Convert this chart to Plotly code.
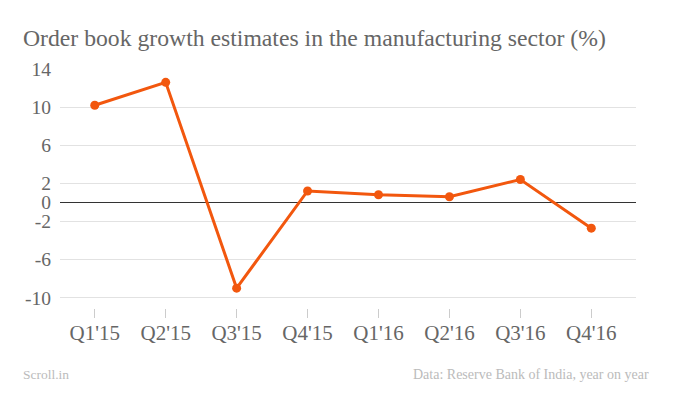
import plotly.graph_objects as go

quarters = ["Q1'15", "Q2'15", "Q3'15", "Q4'15", "Q1'16", "Q2'16", "Q3'16", "Q4'16"]
growth = [10.2, 12.6, -9.0, 1.2, 0.8, 0.6, 2.4, -2.7]
y_ticks = [14, 10, 6, 2, 0, -2, -6, -10]

title_text = "Order book growth estimates in the manufacturing sector (%)"
credit_text = "Scroll.in"
source_text = "Data: Reserve Bank of India, year on year"

FONT = "Liberation Serif"
W, H = 681, 394
L, R, T, B = 60, 45, 69, 86
PW, PH = W - L - R, H - T - B

def px(x):
    return (x - L) / PW

def py(y):
    return (H - B - y) / PH

fig = go.Figure()
fig.add_trace(go.Scatter(
    x=quarters, y=growth, mode="lines+markers",
    line=dict(color="#F2570E", width=3),
    marker=dict(color="#F2570E", size=9),
    hoverinfo="x+y", showlegend=False,
))

fig.update_layout(
    width=W, height=H,
    margin=dict(l=L, r=R, t=T, b=B),
    paper_bgcolor="white", plot_bgcolor="white",
    font=dict(family=FONT, color="#666666"),
    xaxis=dict(
        type="category", range=[-0.49, 7.63],
        showgrid=False, showline=False, zeroline=False,
        ticks="outside", ticklen=9, tickcolor="#cccccc", tickwidth=1,
        ticklabelstandoff=-3,
        tickfont=dict(size=21, color="#666666", family=FONT),
    ),
    yaxis=dict(
        range=[-11.08, 14.0],
        tickvals=y_ticks, ticktext=[str(v) for v in y_ticks],
        showgrid=True, gridcolor="#e2e2e2", gridwidth=1,
        zeroline=True, zerolinecolor="#333333", zerolinewidth=1,
        showline=False, ticks="",
        ticklabelstandoff=8,
        tickfont=dict(size=19.5, color="#666666", family=FONT),
    ),
    annotations=[
        dict(text=title_text, xref="paper", yref="paper",
             x=px(21), y=py(38), xanchor="left", yanchor="middle",
             showarrow=False, font=dict(size=23.7, color="#666666", family=FONT)),
        dict(text=credit_text, xref="paper", yref="paper",
             x=px(21), y=py(374), xanchor="left", yanchor="middle",
             showarrow=False, font=dict(size=13.5, color="#bbbbbb", family=FONT)),
        dict(text=source_text, xref="paper", yref="paper",
             x=px(651), y=py(374), xanchor="right", yanchor="middle",
             showarrow=False, font=dict(size=14, color="#bbbbbb", family=FONT)),
    ],
)

fig.write_html("out.html", config={"displayModeBar": False},
               post_script="document.body.style.margin='0';")
